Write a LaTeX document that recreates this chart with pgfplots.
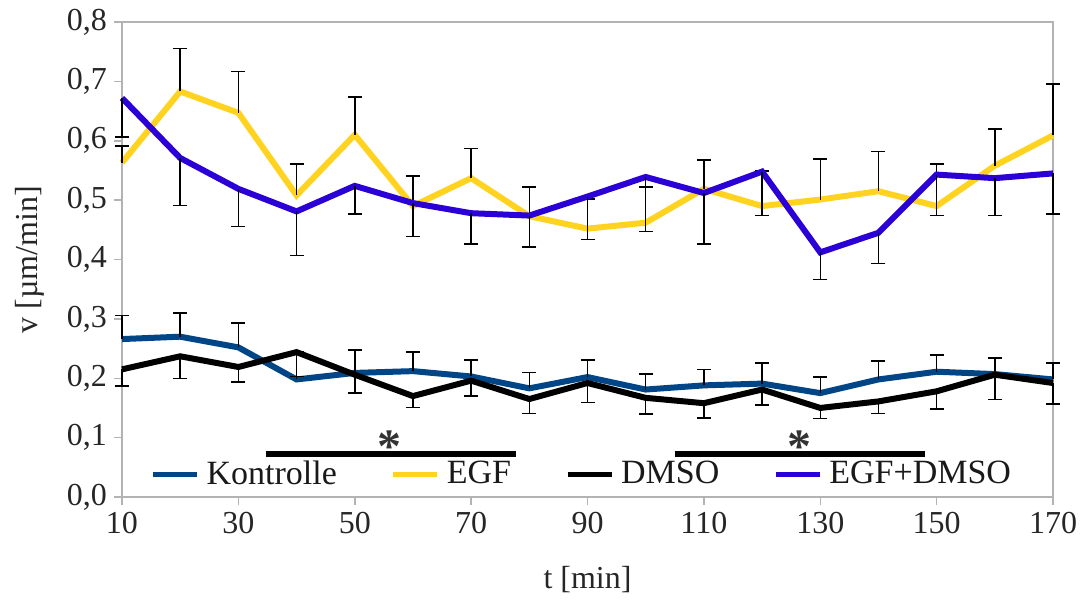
\documentclass[border=0pt]{standalone}
\usepackage{pgfplots}
\pgfplotsset{compat=1.18}
\usepackage{fontspec}
\setmainfont{Liberation Serif}
\definecolor{kontrolle}{HTML}{004586}
\definecolor{egf}{HTML}{FFD320}
\definecolor{egfdmso}{HTML}{2B00D6}
\definecolor{framegrey}{HTML}{B3B3B3}
\begin{document}
\begin{tikzpicture}
\begin{axis}[
  scale only axis,
  width=465.5pt, height=237.5pt,
  xmin=10, xmax=170, ymin=0, ymax=0.8,
  xtick={10,30,...,170},
  ytick={0,0.1,...,0.8},
  xtick pos=left, ytick pos=left,
  tick align=outside,
  major tick length=4pt,
  tick style={framegrey, line width=0.75pt},
  axis line style={framegrey, line width=0.75pt},
  /pgf/number format/assume math mode=true,
  yticklabel style={/pgf/number format/.cd, fixed, fixed zerofill, precision=1, use comma},
  xticklabel style={/pgf/number format/.cd, fixed, precision=0},
  ticklabel style={font=\fontsize{16}{19}\selectfont, color=black!85},
  label style={font=\fontsize{16}{19}\selectfont, color=black!85},
  xlabel={t [min]},
  ylabel={v [µm/min]},
  xlabel style={at={(axis description cs:0.5,-0.1747)}, anchor=center},
  ylabel style={at={(axis description cs:-0.0988,0.5)}, anchor=center},
  legend style={at={(0.495,0.048)}, anchor=center, draw=none, fill=none,
    font=\fontsize{17}{20}\selectfont, text=black!90,
    /tikz/every even column/.append style={column sep=25pt},
    /tikz/every odd column/.append style={column sep=1.5pt}},
  legend columns=4,
  legend image code/.code={\draw[#1, line width=2.5pt] (0pt,0pt) -- (22pt,0pt);},
  error bars/y explicit,
  error bars/error bar style={black, line width=0.75pt},
  error bars/error mark options={rotate=90, mark size=3.5pt, black, line width=0.75pt},
  clip=false,
]
% Kontrolle (upper error)
\addplot[kontrolle, line width=3pt, error bars/.cd, y dir=plus, y explicit] coordinates {
 (10,0.266) +- (0,0.040)
 (20,0.270) +- (0,0.040)
 (30,0.252) +- (0,0.041)
 (40,0.198) +- (0,0.046)
 (50,0.209) +- (0,0.039)
 (60,0.212) +- (0,0.032)
 (70,0.203) +- (0,0.028)
 (80,0.183) +- (0,0.027)
 (90,0.202) +- (0,0.029)
 (100,0.181) +- (0,0.026)
 (110,0.188) +- (0,0.027)
 (120,0.191) +- (0,0.035)
 (130,0.175) +- (0,0.027)
 (140,0.198) +- (0,0.031)
 (150,0.211) +- (0,0.028)
 (160,0.207) +- (0,0.027)
 (170,0.198) +- (0,0.028)
};
\addlegendentry{Kontrolle}
% EGF (upper error)
\addplot[egf, line width=3pt, error bars/.cd, y dir=plus, y explicit] coordinates {
 (10,0.563) +- (0,0.028)
 (20,0.683) +- (0,0.072)
 (30,0.647) +- (0,0.070)
 (40,0.508) +- (0,0.053)
 (50,0.610) +- (0,0.064)
 (60,0.490) +- (0,0.051)
 (70,0.537) +- (0,0.050)
 (80,0.473) +- (0,0.049)
 (90,0.452) +- (0,0.050)
 (100,0.462) +- (0,0.060)
 (110,0.519) +- (0,0.049)
 (120,0.490) +- (0,0.059)
 (130,0.501) +- (0,0.068)
 (140,0.515) +- (0,0.067)
 (150,0.490) +- (0,0.071)
 (160,0.558) +- (0,0.062)
 (170,0.609) +- (0,0.087)
};
\addlegendentry{EGF}
% DMSO (lower error)
\addplot[black, line width=3pt, error bars/.cd, y dir=minus, y explicit] coordinates {
 (10,0.215) +- (0,0.028)
 (20,0.237) +- (0,0.037)
 (30,0.219) +- (0,0.025)
 (40,0.244) +- (0,0.041)
 (50,0.206) +- (0,0.031)
 (60,0.170) +- (0,0.019)
 (70,0.196) +- (0,0.026)
 (80,0.165) +- (0,0.024)
 (90,0.192) +- (0,0.033)
 (100,0.167) +- (0,0.027)
 (110,0.158) +- (0,0.025)
 (120,0.181) +- (0,0.026)
 (130,0.150) +- (0,0.018)
 (140,0.161) +- (0,0.020)
 (150,0.178) +- (0,0.030)
 (160,0.206) +- (0,0.042)
 (170,0.192) +- (0,0.035)
};
\addlegendentry{DMSO}
% EGF+DMSO (lower error)
\addplot[egfdmso, line width=3pt, error bars/.cd, y dir=minus, y explicit] coordinates {
 (10,0.672) +- (0,0.066)
 (20,0.571) +- (0,0.080)
 (30,0.519) +- (0,0.063)
 (40,0.481) +- (0,0.074)
 (50,0.524) +- (0,0.047)
 (60,0.495) +- (0,0.056)
 (70,0.478) +- (0,0.052)
 (80,0.474) +- (0,0.053)
 (90,0.506) +- (0,0.072)
 (100,0.539) +- (0,0.092)
 (110,0.512) +- (0,0.086)
 (120,0.548) +- (0,0.074)
 (130,0.412) +- (0,0.046)
 (140,0.445) +- (0,0.052)
 (150,0.543) +- (0,0.069)
 (160,0.537) +- (0,0.063)
 (170,0.545) +- (0,0.068)
};
\addlegendentry{EGF+DMSO}
% significance bars
\addplot[black, line width=3pt, forget plot] coordinates {(34.7,0.073) (77.7,0.073)};
\addplot[black, line width=3pt, forget plot] coordinates {(105,0.073) (148,0.073)};
\node[anchor=base, font=\fontsize{24}{24}\selectfont\bfseries, text=black!80, inner sep=0pt] at (axis cs:56,0.058) {*};
\node[anchor=base, font=\fontsize{24}{24}\selectfont\bfseries, text=black!80, inner sep=0pt] at (axis cs:126.5,0.058) {*};
\end{axis}
\pgfresetboundingbox
\path ([shift={(-61pt,-52pt)}]current axis.south west) rectangle ([shift={(13.5pt,11pt)}]current axis.north east);
\end{tikzpicture}
\end{document}
